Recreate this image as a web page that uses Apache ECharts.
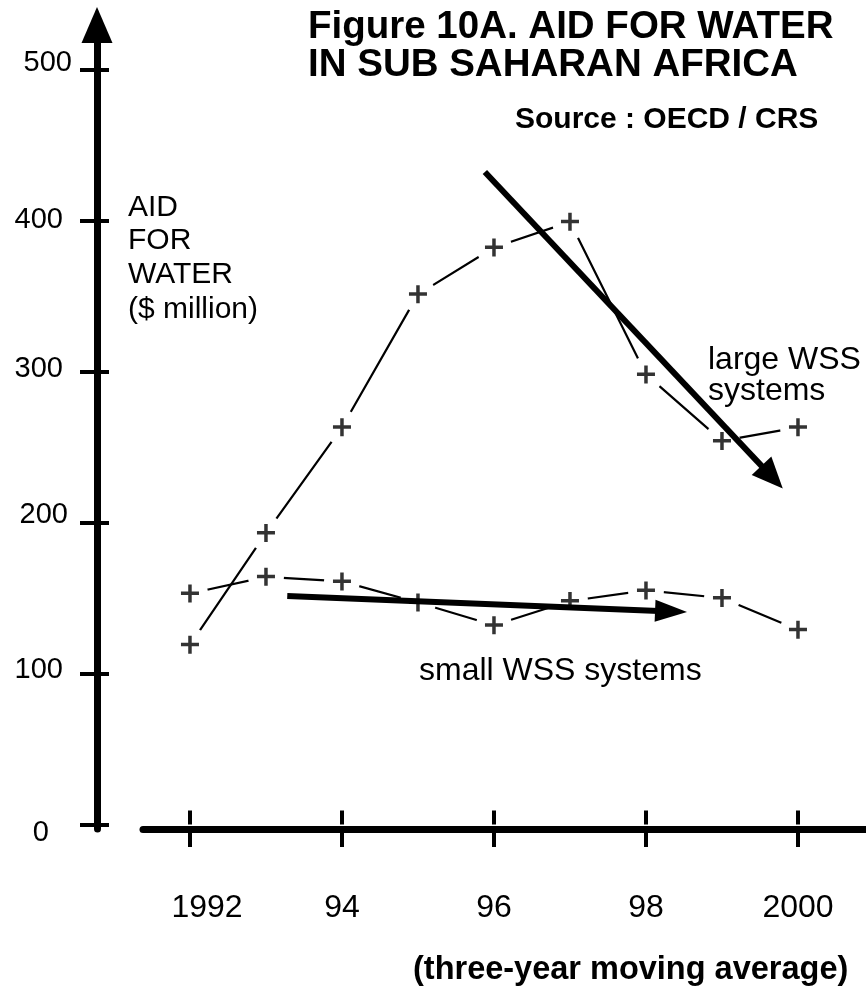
<!DOCTYPE html>
<html>
<head>
<meta charset="utf-8">
<script src="https://cdn.jsdelivr.net/npm/echarts@6/dist/echarts.min.js"></script>
<style>
  html, body { margin: 0; padding: 0; background: #fff; }
  #chart { width: 866px; height: 990px; }
</style>
</head>
<body>
<div id="chart"></div>
<script>
// values ($ million, three-year moving average)
const years = [1992, 1993, 1994, 1995, 1996, 1997, 1998, 1999, 2000]
const largeWSS = [119, 193, 263, 351, 382, 399, 298, 254, 263]
const smallWSS = [153, 164, 161, 147, 132, 148, 155, 150, 129]

// hand drawn trend arrows [year, value] start -> end
const largeTrend = [[1995.88, 432], [1999.66, 230]]
const smallTrend = [[1993.28, 151.4], [1998.33, 141.1]]

const xTickYears = [1992, 1994, 1996, 1998, 2000]
const xTickLabels = ['1992', '94', '96', '98', '2000']
const yTicks = [0, 100, 200, 300, 400, 500]

const FONT = '"Liberation Sans", Arial, Helvetica, sans-serif'
const plus = 'path://M0 7H18V10.5H0Z M7.25 0H10.75V18H7.25Z'

const chart = echarts.init(document.getElementById('chart'))

function pairs(vals) {
  return years.map((y, i) => [y, vals[i]])
}

function gappedLine(name, vals) {
  // white discs under the crosses leave the gaps around each point
  return {
    name: name,
    type: 'line',
    data: pairs(vals),
    symbol: 'circle',
    symbolSize: 36,
    itemStyle: { color: '#fff', borderWidth: 0 },
    lineStyle: { color: '#000', width: 2.2 },
    silent: true,
    z: 2
  }
}

function crosses(vals) {
  return {
    type: 'scatter',
    data: pairs(vals),
    symbol: plus,
    symbolSize: 18,
    itemStyle: { color: '#000' },
    silent: true,
    z: 6
  }
}

function arrow(pts, head) {
  return {
    type: 'line',
    data: pts,
    showSymbol: false,
    lineStyle: { opacity: 0 },
    silent: true,
    z: 4,
    markLine: {
      silent: true,
      symbol: ['none', 'triangle'],
      symbolSize: head,
      label: { show: false },
      lineStyle: { color: '#000', width: 6, type: 'solid' },
      data: [[{ coord: pts[0] }, { coord: pts[1] }]],
      z: 4
    }
  }
}

// per label nudges, the original ticks are hand placed
const yRich = {
  t500: { padding: [0, 0, 12, 0] },
  t400: { padding: [0, 9, 0, 0] },
  t300: { padding: [0, 9, 5, 0] },
  t200: { padding: [0, 4, 15, 0] },
  t100: { padding: [0, 9, 7, 0] },
  t0: { padding: [17, 23, 0, 0] }
}

const yBase = {
  type: 'value',
  min: -2.9,
  max: 529.3,
  position: 'left',
  offset: 46,
  splitLine: { show: false }
}

const xBase = {
  type: 'value',
  min: 1991.382,
  max: 2000.895,
  position: 'bottom',
  splitLine: { show: false }
}

const textStyle = { fill: '#000', fontFamily: FONT }

function label(text, x, y, size, weight) {
  return {
    type: 'text',
    x: x,
    y: y,
    z: 10,
    style: Object.assign({ text: text, fontSize: size, fontWeight: weight || 'normal', verticalAlign: 'top' }, textStyle)
  }
}

chart.setOption({
  animation: false,
  backgroundColor: '#fff',
  grid: { left: 143, right: 0, top: 25, bottom: 161 },
  xAxis: [
    Object.assign({}, xBase, {
      axisLine: { show: true, onZero: false, lineStyle: { color: '#000', width: 7 } },
      axisTick: { show: true, customValues: xTickYears, length: 18, lineStyle: { color: '#000', width: 4 } },
      axisLabel: {
        show: true,
        customValues: xTickYears,
        margin: 63,
        color: '#000',
        fontSize: 32,
        fontFamily: FONT,
        formatter: v => {
          const s = xTickLabels[xTickYears.indexOf(v)]
          return v === 1992 ? '{a|' + s + '}' : s
        },
        rich: { a: { fontSize: 32, fontFamily: FONT, padding: [0, 0, 0, 34] } }
      }
    }),
    Object.assign({}, xBase, {
      axisLine: { show: false },
      axisTick: { show: true, inside: true, customValues: xTickYears, length: 14, lineStyle: { color: '#000', width: 4 } },
      axisLabel: { show: false }
    })
  ],
  yAxis: [
    Object.assign({}, yBase, {
      axisLine: {
        show: true,
        onZero: false,
        symbol: ['none', 'triangle'],
        symbolSize: [31, 36],
        lineStyle: { color: '#000', width: 7 }
      },
      axisTick: { show: true, customValues: yTicks, length: 17, lineStyle: { color: '#000', width: 4 } },
      axisLabel: {
        show: true,
        customValues: yTicks,
        margin: 25,
        color: '#000',
        fontSize: 29,
        fontFamily: FONT,
        formatter: v => '{t' + v + '|' + v + '}',
        rich: yRich
      }
    }),
    Object.assign({}, yBase, {
      axisLine: { show: false },
      axisTick: { show: true, inside: true, customValues: yTicks, length: 12, lineStyle: { color: '#000', width: 4 } },
      axisLabel: { show: false }
    })
  ],
  series: [
    gappedLine('large WSS systems', largeWSS),
    gappedLine('small WSS systems', smallWSS),
    arrow(largeTrend, [27, 31]),
    arrow(smallTrend, [22, 32]),
    crosses(largeWSS),
    crosses(smallWSS)
  ],
  graphic: [
    label('Figure 10A. AID FOR WATER', 308, 8, 38.5, 'bold'),
    label('IN SUB SAHARAN AFRICA', 308, 46, 38.5, 'bold'),
    label('Source : OECD / CRS', 515, 105, 30, 'bold'),
    label('AID', 128, 193, 30),
    label('FOR', 128, 226, 30),
    label('WATER', 128, 260, 30),
    label('($ million)', 128, 295, 30),
    label('large WSS', 708, 344, 32),
    label('systems', 708, 375, 32),
    label('small WSS systems', 419, 655, 32),
    label('(three-year moving average)', 413, 954, 32.5, 'bold')
  ]
})
</script>
</body>
</html>
